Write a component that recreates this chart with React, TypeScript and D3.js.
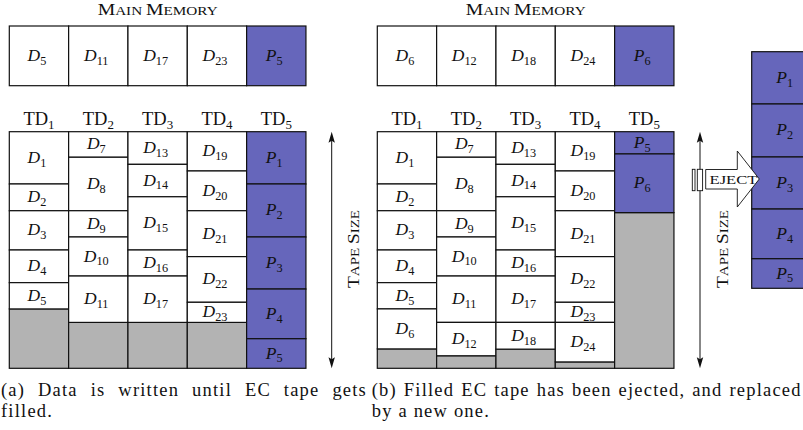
import * as React from 'react';
import * as d3 from 'd3';

// block sizes in percent of one tape's capacity
const td1Sizes = [22.1, 11.3, 16.6, 13.8, 11.1, 16.9]; // D1..D6
const td2Sizes = [10.8, 22.6, 11.1, 16.5, 19.6, 14.1]; // D7..D12
const td3Sizes = [13.8, 13.7, 22.5, 11.0, 19.6, 11.3]; // D13..D18
const td4Sizes = [16.6, 16.8, 19.4, 19.3, 8.5, 16.7]; // D19..D24
const parityA = [22.1, 22.4, 22.0, 21.0, 12.5]; // P1..P5 (first EC tape)
const parityB = [9.4, 24.8]; // P5 rest, P6 (new EC tape)
const tapeCapacity = 100;

const memoryA = ['D5', 'D11', 'D17', 'D23', 'P5'];
const memoryB = ['D6', 'D12', 'D18', 'D24', 'P6'];
const tapeLabels = ['1', '2', '3', '4', '5'];

const captionA = ['(a) Data is written until EC tape gets', 'filled.'];
const captionB = ['(b) Filled EC tape has been ejected, and replaced', 'by a new one.'];

const PURPLE = '#6666bb';
const GRAY = '#b3b3b3';
const FONT = 'Liberation Serif';

interface Block { name: string; num: number; size: number; parity: boolean; }

const dataBlocks = (sizes: number[], first: number, count: number): Block[] =>
    sizes.slice(0, count).map((s, i) => ({ name: 'D', num: first + i, size: s, parity: false }));
const parityBlocks = (sizes: number[], first: number): Block[] =>
    sizes.map((s, i) => ({ name: 'P', num: first + i, size: s, parity: true }));

const Label: React.FunctionComponent<{ x: number; y: number; name: string; num: string; italic?: boolean; size?: number }> = (p) => {
    const fs = p.size ?? 17.5;
    return (
        <text x={p.x} y={p.y} textAnchor="middle" fontFamily={FONT} fontSize={fs} fill="#111">
            <tspan fontStyle={p.italic === false ? 'normal' : 'italic'}>{p.name}</tspan>
            <tspan fontSize={fs * 0.7} dy={fs * 0.22}>{p.num}</tspan>
        </text>
    );
};

const TapeColumn: React.FunctionComponent<{ x: number; w: number; y: d3.ScaleLinear<number, number>; blocks: Block[]; fillRest: boolean }> = (p) => {
    let acc = 0;
    const items = p.blocks.map((b) => {
        const y0 = p.y(acc);
        acc += b.size;
        const y1 = p.y(acc);
        return { b, y0, y1 };
    });
    const rest = p.y(tapeCapacity);
    return (
        <g>
            {p.fillRest && acc < tapeCapacity && (
                <rect x={p.x} y={p.y(acc)} width={p.w} height={rest - p.y(acc)} fill={GRAY} stroke="#111" strokeWidth={1.2} />
            )}
            {items.map(({ b, y0, y1 }) => (
                <g key={b.name + b.num}>
                    <rect x={p.x} y={y0} width={p.w} height={y1 - y0} fill={b.parity ? PURPLE : '#fff'} stroke="#111" strokeWidth={1.2} />
                    <Label x={p.x + p.w / 2 - 2} y={(y0 + y1) / 2 + 5} name={b.name} num={String(b.num)} />
                </g>
            ))}
        </g>
    );
};

const Arrow: React.FunctionComponent<{ x: number; y0: number; y1: number }> = ({ x, y0, y1 }) => (
    <g>
        <line x1={x} x2={x} y1={y0 + 6} y2={y1 - 6} stroke="#111" strokeWidth={1} />
        <path d={`M${x},${y0} L${x + 3.2},${y0 + 11} L${x},${y0 + 9} L${x - 3.2},${y0 + 11} Z`} fill="#111" />
        <path d={`M${x},${y1} L${x + 3.2},${y1 - 11} L${x},${y1 - 9} L${x - 3.2},${y1 - 11} Z`} fill="#111" />
    </g>
);

// hand-made small caps: capital letters big, lower case as smaller capitals
const SmallCaps: React.FunctionComponent<{ x: number; y: number; text: string; width: number; rotate?: boolean }> = (p) => (
    <text x={p.x} y={p.y} textAnchor="middle" fontFamily={FONT} fontSize={17.5} fill="#111"
        textLength={p.width} lengthAdjust="spacingAndGlyphs"
        transform={p.rotate ? `rotate(-90,${p.x},${p.y})` : undefined}>
        {p.text.split('').map((c, i) => (
            <tspan key={i} fontSize={c === c.toUpperCase() && c !== ' ' ? 17.5 : 13.5}>{c.toUpperCase()}</tspan>
        ))}
    </text>
);

// justified caption line: word spacing stretched so the line ends at x + width
const Justified: React.FunctionComponent<{ x: number; y: number; text: string; width?: number }> = (p) => {
    const ref = React.useRef<SVGTextElement>(null);
    React.useEffect(() => {
        if (!ref.current || !p.width) return;
        const el = ref.current;
        el.setAttribute('word-spacing', '0');
        const natural = el.getComputedTextLength();
        const gaps = p.text.split(' ').length - 1;
        if (gaps > 0) el.setAttribute('word-spacing', String(Math.max(0, (p.width - natural) / gaps)));
    });
    return <text ref={ref} x={p.x} y={p.y} fontFamily={FONT} fontSize={18.5} style={{ letterSpacing: '1.2px' }} fill="#111">{p.text}</text>;
};

const Panel: React.FunctionComponent<{ x0: number; memory: string[]; columns: Block[][]; arrowX: number }> = (p) => {
    const colW = 59.33;
    const xs = d3.range(5).map((i) => p.x0 + i * colW);
    const yTape = d3.scaleLinear().domain([0, tapeCapacity]).range([131.7, 368.3]);
    const memTop = 26;
    const memBottom = 85.7;
    const midX = p.x0 + colW * 2.5;
    return (
        <g>
            <SmallCaps x={midX} y={14.5} text="Main Memory" width={120} />
            {p.memory.map((m, i) => (
                <g key={m}>
                    <rect x={xs[i]} y={memTop} width={colW} height={memBottom - memTop}
                        fill={m[0] === 'P' ? PURPLE : '#fff'} stroke="#111" strokeWidth={1.2} />
                    <Label x={xs[i] + colW / 2 - 2} y={(memTop + memBottom) / 2 + 5} name={m[0]} num={m.slice(1)} />
                </g>
            ))}
            {tapeLabels.map((t, i) => (
                <Label key={t} x={xs[i] + colW / 2} y={124.5} name="TD" num={t} italic={false} size={18.5} />
            ))}
            {p.columns.map((blocks, i) => (
                <TapeColumn key={i} x={xs[i]} w={colW} y={yTape} blocks={blocks} fillRest={true} />
            ))}
            <Arrow x={p.arrowX} y0={131.7} y1={368.3} />
            <SmallCaps x={p.arrowX + 27.5} y={249} text="Tape Size" width={78} rotate={true} />
        </g>
    );
};

const App: React.FunctionComponent = () => {
    const colsA = [
        dataBlocks(td1Sizes, 1, 5),
        dataBlocks(td2Sizes, 7, 5),
        dataBlocks(td3Sizes, 13, 5),
        dataBlocks(td4Sizes, 19, 5),
        parityBlocks(parityA, 1),
    ];
    const colsB = [
        dataBlocks(td1Sizes, 1, 6),
        dataBlocks(td2Sizes, 7, 6),
        dataBlocks(td3Sizes, 13, 6),
        dataBlocks(td4Sizes, 19, 6),
        parityBlocks(parityB, 5),
    ];
    const yEject = d3.scaleLinear().domain([0, tapeCapacity]).range([51.7, 288.3]);
    const cy = 179;
    return (
        <svg width={803} height={430} style={{ position: 'absolute', left: 0, top: 0, background: '#fff' }}>
            <Panel x0={9.3} memory={memoryA} columns={colsA} arrowX={331.7} />
            <Panel x0={377.3} memory={memoryB} columns={colsB} arrowX={700} />

            {/* ejected EC tape */}
            <TapeColumn x={751.7} w={70} y={yEject} blocks={parityBlocks(parityA, 1)} fillRest={false} />

            {/* eject arrow */}
            <rect x={692.3} y={169.3} width={2.7} height={21.4} fill="#fff" stroke="#111" strokeWidth={0.9} />
            <rect x={697.3} y={169.3} width={5.3} height={21.4} fill="#fff" stroke="#111" strokeWidth={0.9} />
            <path d={`M705.7,${cy - 9.5} L737.3,${cy - 9.5} L737.3,${cy - 28} L759.3,${cy} L737.3,${cy + 28} L737.3,${cy + 10} L705.7,${cy + 10} Z`}
                fill="#fff" stroke="#111" strokeWidth={0.9} />
            <text x={709.5} y={183.8} fontFamily={FONT} fontSize={13.5} textLength={48} lengthAdjust="spacingAndGlyphs" fill="#111">EJECT</text>

            {/* captions */}
            <Justified x={1} y={396} text={captionA[0]} width={366} />
            <Justified x={1} y={417} text={captionA[1]} />
            <Justified x={371.7} y={396} text={captionB[0]} width={430} />
            <Justified x={371.7} y={417} text={captionB[1]} />
        </svg>
    );
};

export default App;
